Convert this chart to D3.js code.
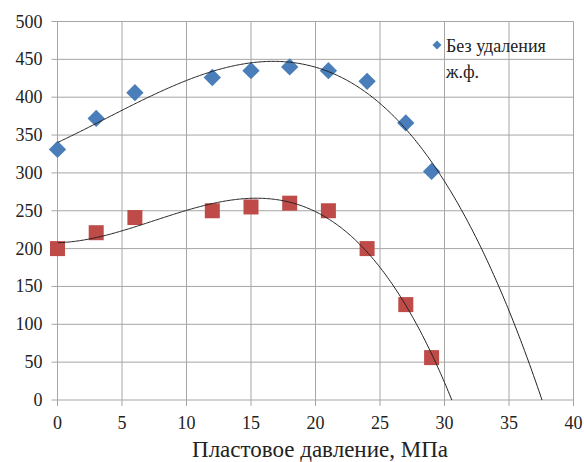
<!DOCTYPE html>
<html><head><meta charset="utf-8">
<script src="https://cdn.jsdelivr.net/npm/d3@7"></script>
<style>body{margin:0;background:#fff}svg{display:block}
svg text{font-family:"Liberation Serif","Times New Roman",serif !important}</style>
</head><body>
<svg id="c" width="584" height="462" font-family="Liberation Serif"></svg>
<script>
const xValues = [0, 3, 6, 12, 15, 18, 21, 24, 27, 29];
const blueValues = [331, 372, 406, 426, 435, 440, 435, 421, 366, 302];
const redValues = [200, 221, 241, 250, 255, 260, 250, 200, 126, 56];
const xTicks = [0, 5, 10, 15, 20, 25, 30, 35, 40];
const yTicks = [0, 50, 100, 150, 200, 250, 300, 350, 400, 450, 500];
const legendLines = ["Без удаления", "ж.ф."];
const xTitle = "Пластовое давление, МПа";

const svg = d3.select("#c");
const L = 57.5, R = 573.5, T = 21.5, B = 400;
const x = d3.scaleLinear().domain([0, 40]).range([L, R]);
const y = d3.scaleLinear().domain([0, 500]).range([B, T]);
const FAM = "'Liberation Serif', 'Times New Roman', serif";

// grid
svg.append("g").selectAll("line").data(yTicks).join("line")
  .attr("x1", L - 6).attr("x2", R).attr("y1", d => y(d)).attr("y2", d => y(d))
  .attr("stroke", "#a6a6a6").attr("stroke-width", 1);
svg.append("g").selectAll("line").data(xTicks).join("line")
  .attr("y1", T).attr("y2", B + 6).attr("x1", d => x(d)).attr("x2", d => x(d))
  .attr("stroke", "#a6a6a6").attr("stroke-width", 1);

svg.append("g").selectAll("text").data(yTicks).join("text")
  .style("font-family", FAM, "important")
  .attr("x", L - 15).attr("y", d => y(d) + 6)
  .attr("text-anchor", "end").attr("font-size", 18)
  .attr("fill", "#222").text(d => d);
svg.append("g").selectAll("text").data(xTicks).join("text")
  .style("font-family", FAM, "important")
  .attr("x", d => x(d)).attr("y", 429)
  .attr("text-anchor", "middle").attr("font-size", 18)
  .attr("fill", "#222").text(d => d);
svg.append("text").style("font-family", FAM, "important")
  .attr("x", 320).attr("y", 457).attr("text-anchor", "middle")
  .attr("font-size", 23).attr("fill", "#222").text(xTitle);

// polynomial least squares fit (Excel-style polynomial trendline)
function polyfit(xs, ys, deg) {
  const n = deg + 1;
  const A = Array.from({length: n}, () => new Array(n + 1).fill(0));
  for (let i = 0; i < xs.length; i++) {
    for (let r = 0; r < n; r++) {
      for (let c = 0; c < n; c++) A[r][c] += Math.pow(xs[i], r + c);
      A[r][n] += ys[i] * Math.pow(xs[i], r);
    }
  }
  for (let i = 0; i < n; i++) {
    let m = i;
    for (let k = i + 1; k < n; k++) if (Math.abs(A[k][i]) > Math.abs(A[m][i])) m = k;
    [A[i], A[m]] = [A[m], A[i]];
    for (let k = i + 1; k < n; k++) {
      const f = A[k][i] / A[i][i];
      for (let j = i; j <= n; j++) A[k][j] -= f * A[i][j];
    }
  }
  const co = new Array(n).fill(0);
  for (let i = n - 1; i >= 0; i--) {
    let s = A[i][n];
    for (let j = i + 1; j < n; j++) s -= A[i][j] * co[j];
    co[i] = s / A[i][i];
  }
  return t => co.reduce((a, c, k) => a + c * Math.pow(t, k), 0);
}

svg.append("clipPath").attr("id", "pc").append("rect")
  .attr("x", L).attr("y", T).attr("width", R - L).attr("height", B - T);

function trend(vals) {
  const f = polyfit(xValues, vals, 3);
  const pts = [];
  for (let t = 0; t <= 40; t += 0.1) {
    const v = f(t);
    pts.push([t, v]);
    if (v < 0) break;
  }
  svg.append("path").attr("clip-path", "url(#pc)")
    .attr("d", d3.line().x(d => x(d[0])).y(d => y(d[1]))(pts))
    .attr("fill", "none").attr("stroke", "#222").attr("stroke-width", 1);
}

// markers
svg.append("g").selectAll("path").data(xValues.map((d, i) => [d, blueValues[i]])).join("path")
  .attr("d", d3.symbol().type(d3.symbolSquare).size(150))
  .attr("transform", d => `translate(${x(d[0])},${y(d[1])}) rotate(45)`)
  .attr("fill", "#4a7ebb");
svg.append("g").selectAll("rect").data(xValues.map((d, i) => [d, redValues[i]])).join("rect")
  .attr("x", d => x(d[0]) - 7.5).attr("y", d => y(d[1]) - 7.5)
  .attr("width", 15).attr("height", 15).attr("fill", "#be4b48");

trend(blueValues);
trend(redValues);

// legend
svg.append("path").attr("d", d3.symbol().type(d3.symbolSquare).size(40))
  .attr("transform", "translate(437,45) rotate(45)").attr("fill", "#4a7ebb");
svg.append("g").selectAll("text").data(legendLines).join("text")
  .style("font-family", FAM, "important")
  .attr("x", 446).attr("y", (d, i) => 52 + i * 26)
  .attr("font-size", 18).attr("fill", "#222").text(d => d);
</script>
</body></html>
